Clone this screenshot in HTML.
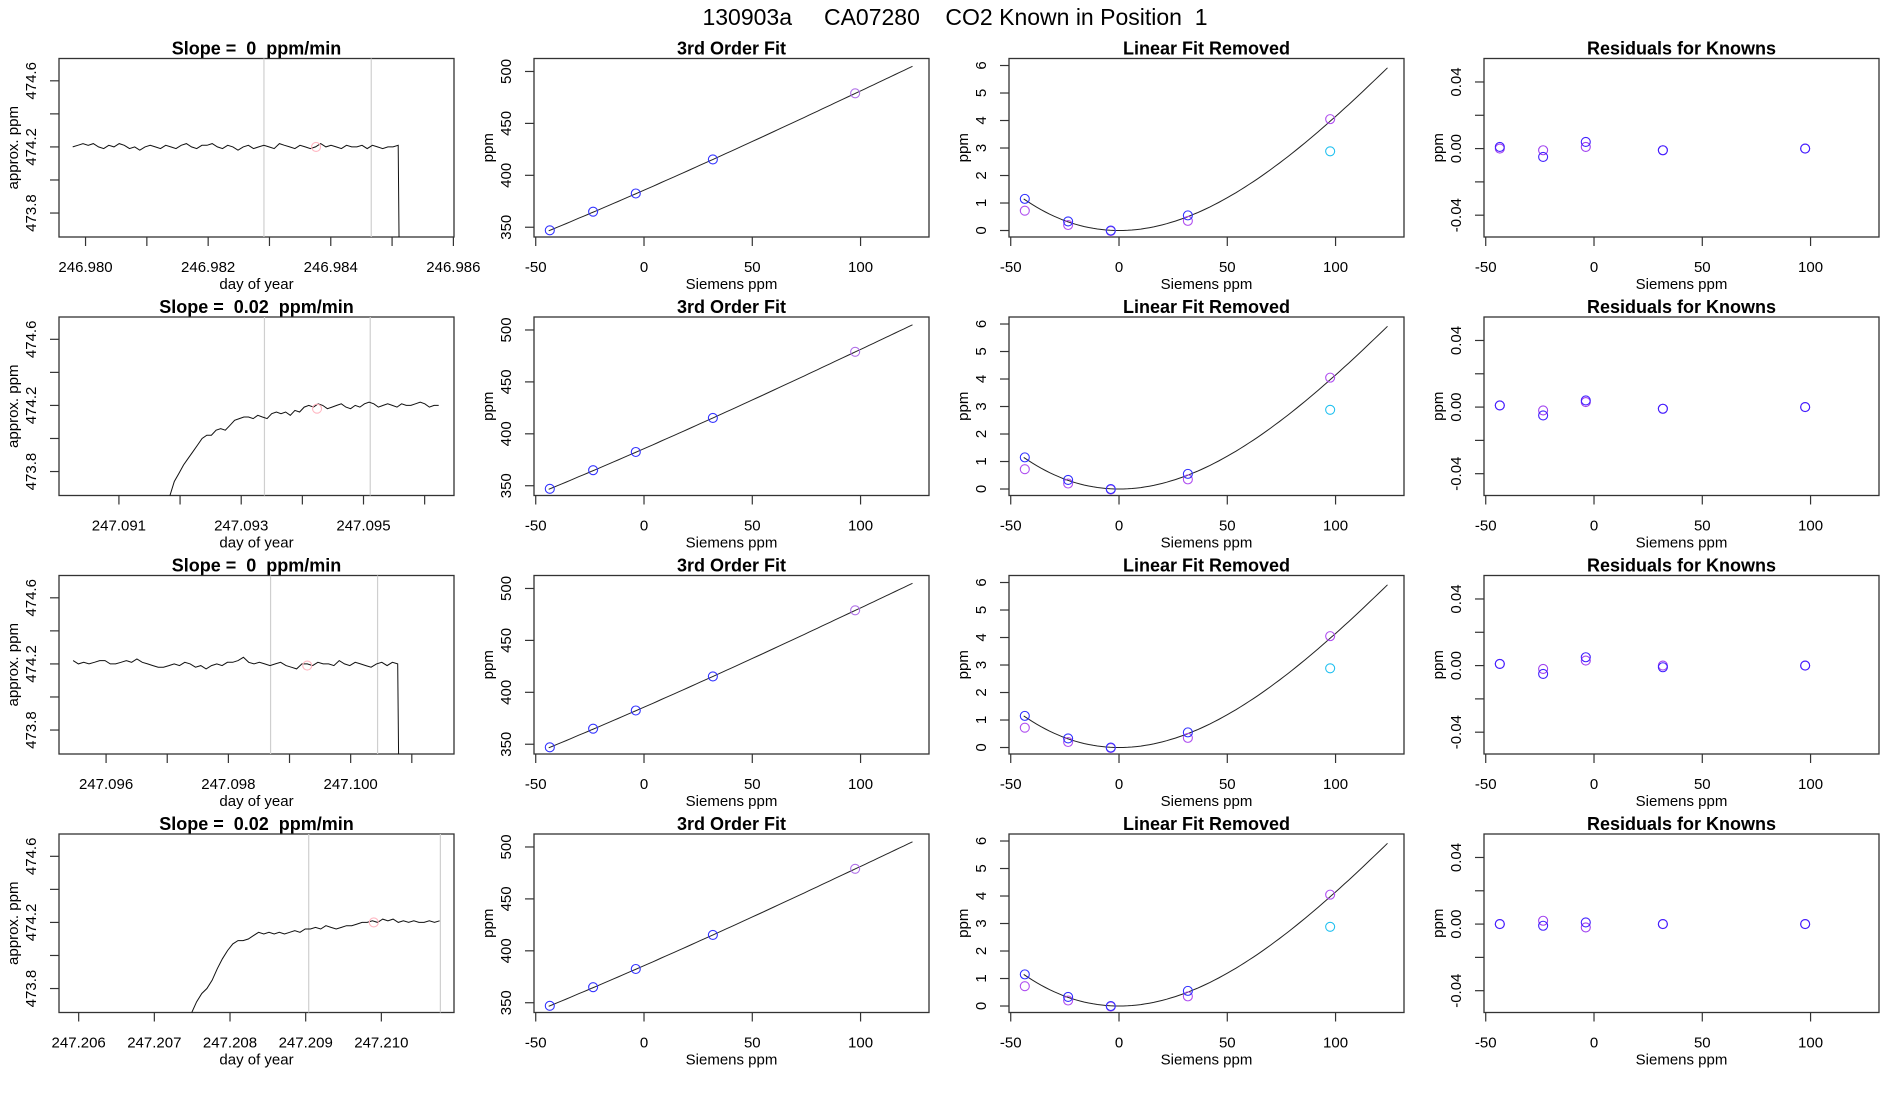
<!DOCTYPE html>
<html><head><meta charset="utf-8"><title>130903a CA07280 CO2 Known in Position 1</title>
<style>
html,body{margin:0;padding:0;background:#fff;}
svg{display:block;font-family:"Liberation Sans",Arial,sans-serif;}
</style></head>
<body>
<svg id="chart" width="1900" height="1100" viewBox="0 0 1900 1100" xmlns="http://www.w3.org/2000/svg">
<text x="955" y="25" font-size="23" text-anchor="middle" style="white-space:pre" xml:space="preserve">130903a     CA07280    CO2 Known in Position  1</text>
</svg>
<script>
// ---------- data ----------
const slopeLabels = ["0", "0.02", "0", "0.02"];
const timeStart = [246.97979, 247.09183, 247.09546, 247.20749];
const timeEnd = [246.98510, 247.09623, 247.10077, 247.21077];
const timeLimLo = [246.979567, 247.09002, 247.09523, 247.20574];
const timeLimHi = [246.98601, 247.09648, 247.10169, 247.21096];
const timeTicks = [
  [246.980,246.981,246.982,246.983,246.984,246.985,246.986],
  [247.091,247.092,247.093,247.094,247.095,247.096],
  [247.096,247.097,247.098,247.099,247.100,247.101],
  [247.206,247.207,247.208,247.209,247.210]
];
const timeTickLabels = [
  ["246.980","","246.982","","246.984","","246.986"],
  ["247.091","","247.093","","247.095",""],
  ["247.096","","247.098","","247.100",""],
  ["247.206","247.207","247.208","247.209","247.210"]
];
const dropAtEnd = [true, false, true, false];
const grayLine1 = [246.98291, 247.09338, 247.09869, 247.20904];
const grayLine2 = [246.98466, 247.09511, 247.10044, 247.21078];
const pinkX = [246.98376, 247.09424, 247.09929, 247.20990];
const pinkY = [474.20, 474.18, 474.19, 474.20];
const ppmRow1 = [474.20,474.21,474.22,474.21,474.22,474.20,474.19,474.21,474.20,474.22,474.21,474.19,474.20,474.18,474.20,474.21,474.20,474.19,474.21,474.20,474.19,474.21,474.22,474.20,474.19,474.21,474.21,474.22,474.20,474.19,474.21,474.20,474.18,474.20,474.21,474.19,474.20,474.21,474.20,474.19,474.22,474.21,474.20,474.19,474.21,474.20,474.19,474.20,474.22,474.20,474.21,474.20,474.19,474.21,474.20,474.20,474.21,474.19,474.21,474.20,474.19,474.20,474.20,474.21];
const ppmRow2 = [473.65,473.74,473.79,473.84,473.88,473.92,473.96,474.00,474.02,474.02,474.05,474.06,474.05,474.08,474.11,474.12,474.13,474.13,474.12,474.14,474.13,474.12,474.15,474.16,474.15,474.16,474.14,474.17,474.16,474.19,474.20,474.19,474.21,474.20,474.18,474.19,474.20,474.21,474.19,474.18,474.20,474.19,474.21,474.22,474.21,474.19,474.20,474.21,474.20,474.19,474.21,474.20,474.20,474.21,474.22,474.21,474.19,474.20,474.20];
const ppmRow3 = [474.22,474.20,474.21,474.20,474.21,474.22,474.22,474.20,474.20,474.21,474.22,474.21,474.23,474.21,474.20,474.19,474.18,474.18,474.19,474.20,474.19,474.21,474.20,474.18,474.19,474.17,474.19,474.20,474.19,474.21,474.21,474.22,474.24,474.21,474.20,474.21,474.20,474.19,474.20,474.21,474.19,474.18,474.17,474.20,474.20,474.19,474.21,474.20,474.20,474.19,474.22,474.20,474.19,474.21,474.20,474.19,474.18,474.20,474.21,474.19,474.21,474.20];
const ppmRow4 = [473.65,473.72,473.77,473.80,473.85,473.92,473.98,474.03,474.07,474.09,474.09,474.10,474.12,474.14,474.13,474.14,474.13,474.14,474.13,474.14,474.15,474.14,474.16,474.16,474.17,474.16,474.18,474.17,474.16,474.17,474.18,474.18,474.19,474.20,474.20,474.21,474.20,474.22,474.21,474.22,474.20,474.21,474.20,474.21,474.20,474.20,474.21,474.20,474.21];
const ppmRows = [ppmRow1, ppmRow2, ppmRow3, ppmRow4];

const siemens = [-43.5, -23.5, -3.8, 31.8, 97.5];
const measuredPpm = [347.0, 365.0, 382.5, 415.3, 479.0];
const fitLinear = [385.7, 0.9145];
const fitQuadCubic = [5.39e-4, -1.243e-6];
const removedBlue = [1.15, 0.33, 0.0, 0.55];
const removedPurple = [0.72, 0.20, -0.02, 0.35, 4.05];
const removedCyan = [2.88];
const residBlue = [
  [0.001,-0.005,0.004,-0.001,0.000],
  [0.001,-0.005,0.004,-0.001,0.000],
  [0.001,-0.005,0.005,-0.001,0.000],
  [0.000,-0.001,0.001,0.000,0.000]
];
const residPurple = [
  [0.000,-0.001,0.001,-0.001,0.000],
  [0.001,-0.002,0.003,-0.001,0.000],
  [0.001,-0.002,0.003,0.000,0.000],
  [0.000,0.002,-0.002,0.000,0.000]
];
const siemensTicks = [-50, 0, 50, 100];
const ppmTicks = [350, 400, 450, 500];
const removedTicks = [0,1,2,3,4,5,6];
const residTicks = [-0.04,-0.02,0,0.02,0.04];
const residTickLabels = ["-0.04","","0.00","","0.04"];
const approxTicks = [473.8,474.0,474.2,474.4,474.6];
const approxTickLabels = ["473.8","","474.2","","474.6"];

// ---------- drawing ----------
const NS = "http://www.w3.org/2000/svg";
const svg = document.getElementById("chart");
function mk(tag, attrs, parent) {
  const e = document.createElementNS(NS, tag);
  for (const k in attrs) e.setAttribute(k, attrs[k]);
  (parent || svg).appendChild(e);
  return e;
}
const rowTops = [58.5, 317, 575.5, 834];
const colLefts = [59, 534, 1009, 1484];
const W = 395, H = 178.5;

function scale(d0, d1, r0, r1) { return v => r0 + (v - d0) / (d1 - d0) * (r1 - r0); }

function panel(col, row, title, xs, ys, xticks, xlabels, yticks, ylabels, xtitle, ytitle, pname) {
  const L = colLefts[col], T = rowTops[row], B = T + H, R = L + W;
  const g = mk("g", {});
  
  
  const t = mk("text", {x: L + W / 2, y: T - 4, "font-size": 18, "font-weight": "bold", "text-anchor": "middle", "xml:space": "preserve", style: "white-space:pre"}, g);
  t.textContent = title;
  
  
  const box = mk("rect", {x: L, y: T, width: W, height: H, fill: "none", stroke: "#333", "stroke-width": 1.3}, g);
  
  
  const xa = mk("g", {}, g);
  
  
  xticks.forEach((v, i) => {
    const px = xs(v);
    mk("line", {x1: px, x2: px, y1: B, y2: B + 9, stroke: "#333", "stroke-width": 1.2}, xa);
    if (xlabels[i]) {
      const tl = mk("text", {x: px, y: B + 35, "font-size": 15, "text-anchor": "middle"}, xa);
      tl.textContent = xlabels[i];
      
      
    }
  });
  const xt = mk("text", {x: L + W / 2, y: B + 52, "font-size": 15, "text-anchor": "middle"}, xa);
  xt.textContent = xtitle;
  
  
  const ya = mk("g", {}, g);
  
  
  yticks.forEach((v, i) => {
    const py = ys(v);
    mk("line", {x1: L - 9, x2: L, y1: py, y2: py, stroke: "#333", "stroke-width": 1.2}, ya);
    if (ylabels[i]) {
      const tl = mk("text", {x: L - 23, y: py, "font-size": 15, "text-anchor": "middle", transform: `rotate(-90 ${L - 23} ${py})`}, ya);
      tl.textContent = ylabels[i];
      
      
    }
  });
  const ycy = T + H / 2;
  const yt = mk("text", {x: L - 41, y: ycy, "font-size": 15, "text-anchor": "middle", transform: `rotate(-90 ${L - 41} ${ycy})`}, ya);
  yt.textContent = ytitle;
  
  
  const clip = "clip" + col + "_" + row;
  const cp = mk("clipPath", {id: clip}, g);
  mk("rect", {x: L, y: T, width: W, height: H}, cp);
  const plot = mk("g", {"clip-path": `url(#${clip})`}, g);
  return plot;
}
function circle(parent, cx, cy, color, name) {
  const c = mk("circle", {cx: cx, cy: cy, r: 4.5, fill: "none", stroke: color, "stroke-width": 1.1}, parent);
  
  
}
function fitCurve(x) { return fitQuadCubic[0] * x * x + fitQuadCubic[1] * x * x * x; }

for (let r = 0; r < 4; r++) {
  // panel 1: time series
  const xs = scale(timeLimLo[r], timeLimHi[r], colLefts[0], colLefts[0] + W);
  const ys = scale(473.655, 474.735, rowTops[r] + H, rowTops[r]);
  const p1 = panel(0, r, "Slope =  " + slopeLabels[r] + "  ppm/min", xs, ys, timeTicks[r], timeTickLabels[r], approxTicks, approxTickLabels, "day of year", "approx. ppm", "time-series-panel-row" + (r + 1));
  [grayLine1[r], grayLine2[r]].forEach(v => {
    const gl = mk("line", {x1: xs(v), x2: xs(v), y1: rowTops[r], y2: rowTops[r] + H, stroke: "#cfcfcf", "stroke-width": 1.2}, p1);
    
    
  });
  const vals = ppmRows[r];
  const n = vals.length;
  let pts = vals.map((v, i) => {
    const t = timeStart[r] + (timeEnd[r] - timeStart[r]) * i / (n - 1);
    return xs(t).toFixed(1) + "," + ys(v).toFixed(1);
  });
  if (dropAtEnd[r]) pts.push(xs(timeEnd[r] + 0.000025).toFixed(1) + "," + ys(473.2).toFixed(1));
  const pl = mk("polyline", {points: pts.join(" "), fill: "none", stroke: "#111", "stroke-width": 1}, p1);
  
  
  circle(p1, xs(pinkX[r]), ys(pinkY[r]), "#ffb6c1", "sample-point");

  // panel 2: 3rd order fit
  const sx = c => scale(-50.8, 131.6, colLefts[c], colLefts[c] + W);
  const xs2 = sx(1);
  const ys2 = scale(340.6, 512.5, rowTops[r] + H, rowTops[r]);
  const p2 = panel(1, r, "3rd Order Fit", xs2, ys2, siemensTicks, siemensTicks.map(String), ppmTicks, ppmTicks.map(String), "Siemens ppm", "ppm", "third-order-fit-panel-row" + (r + 1));
  let cp = [];
  for (let x = -44; x <= 125; x += 2) cp.push(xs2(x).toFixed(1) + "," + ys2(fitLinear[0] + fitLinear[1] * x + fitCurve(x)).toFixed(1));
  const c2 = mk("polyline", {points: cp.join(" "), fill: "none", stroke: "#222", "stroke-width": 1}, p2);
  
  
  siemens.forEach((x, i) => circle(p2, xs2(x), ys2(measuredPpm[i]), i < 4 ? "#3333ff" : "#b070e8", "known-point"));

  // panel 3: linear fit removed
  const xs3 = sx(2);
  const ys3 = scale(-0.236, 6.255, rowTops[r] + H, rowTops[r]);
  const p3 = panel(2, r, "Linear Fit Removed", xs3, ys3, siemensTicks, siemensTicks.map(String), removedTicks, removedTicks.map(String), "Siemens ppm", "ppm", "linear-fit-removed-panel-row" + (r + 1));
  cp = [];
  for (let x = -44; x <= 125; x += 2) cp.push(xs3(x).toFixed(1) + "," + ys3(fitCurve(x)).toFixed(1));
  const c3 = mk("polyline", {points: cp.join(" "), fill: "none", stroke: "#222", "stroke-width": 1}, p3);
  
  
  removedPurple.forEach((v, i) => circle(p3, xs3(siemens[i]), ys3(v), "#b050f0", "removed-point-purple"));
  removedBlue.forEach((v, i) => circle(p3, xs3(siemens[i]), ys3(v), "#3030ff", "removed-point-blue"));
  removedCyan.forEach(v => circle(p3, xs3(siemens[4]), ys3(v), "#20c0f0", "removed-point-cyan"));

  // panel 4: residuals
  const xs4 = sx(3);
  const ys4 = scale(-0.0531, 0.0541, rowTops[r] + H, rowTops[r]);
  const p4 = panel(3, r, "Residuals for Knowns", xs4, ys4, siemensTicks, siemensTicks.map(String), residTicks, residTickLabels, "Siemens ppm", "ppm", "residuals-panel-row" + (r + 1));
  residPurple[r].forEach((v, i) => circle(p4, xs4(siemens[i]), ys4(v), "#a040f0", "residual-point-purple"));
  residBlue[r].forEach((v, i) => circle(p4, xs4(siemens[i]), ys4(v), "#4020ff", "residual-point-blue"));
}
</script>
</body></html>
